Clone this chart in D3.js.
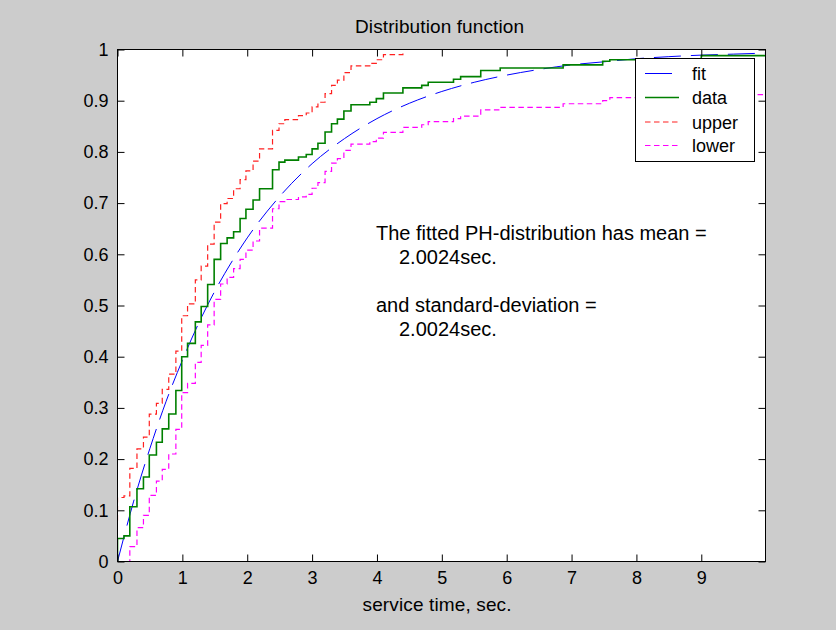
<!DOCTYPE html>
<html>
<head>
<meta charset="utf-8">
<script src="https://cdn.jsdelivr.net/npm/d3@7"></script>
<style>
  html, body { margin: 0; padding: 0; background: #cccccc; }
  svg { display: block; }
  text { font-family: "Liberation Sans", Arial, sans-serif; fill: #000; }
</style>
</head>
<body>
<svg id="chart" width="836" height="630"></svg>
<script>
// ---------- data ----------
const xTicks = [0, 1, 2, 3, 4, 5, 6, 7, 8, 9];
const xTickLabels = ["0", "1", "2", "3", "4", "5", "6", "7", "8", "9"];
const yTicks = [0, 0.1, 0.2, 0.3, 0.4, 0.5, 0.6, 0.7, 0.8, 0.9, 1];
const yTickLabels = ["0", "0.1", "0.2", "0.3", "0.4", "0.5", "0.6", "0.7", "0.8", "0.9", "1"];
const xMax = 9.99;

const seriesNames = ["fit", "data", "upper", "lower"];

const fitX = [0, 0.25, 0.5, 0.75, 1, 1.25, 1.5, 1.75, 2, 2.5, 3, 3.5, 4, 4.5, 5, 5.5, 6, 6.5, 7, 7.5, 8, 8.5, 9, 9.5, 9.99];
const fitY = [0, 0.118, 0.221, 0.313, 0.393, 0.465, 0.528, 0.583, 0.632, 0.713, 0.777, 0.826, 0.865, 0.895, 0.918, 0.936, 0.950, 0.961, 0.970, 0.976, 0.982, 0.986, 0.989, 0.991, 0.993];

const dataX = [0, 0, 0.10, 0.19, 0.30, 0.40, 0.49, 0.60, 0.69, 0.79, 0.90, 0.99, 1.08, 1.20, 1.29, 1.39, 1.49, 1.59, 1.69, 1.79, 1.89, 1.98, 2.09, 2.19, 2.39, 2.49, 2.58, 2.79, 2.91, 3.00, 3.09, 3.20, 3.30, 3.39, 3.49, 3.60, 3.89, 3.99, 4.10, 4.40, 4.69, 4.79, 5.18, 5.29, 5.60, 5.90, 6.87, 7.48, 7.59, 9.00, 9.99];
const dataY = [0, 0.045, 0.05, 0.107, 0.142, 0.165, 0.208, 0.233, 0.259, 0.288, 0.334, 0.40, 0.426, 0.468, 0.498, 0.541, 0.59, 0.621, 0.632, 0.644, 0.67, 0.688, 0.706, 0.728, 0.765, 0.78, 0.784, 0.79, 0.795, 0.806, 0.817, 0.839, 0.855, 0.864, 0.88, 0.892, 0.897, 0.904, 0.915, 0.925, 0.93, 0.936, 0.942, 0.947, 0.959, 0.964, 0.970, 0.977, 0.98, 0.988, 0.988];

const upperX = [0, 0, 0.10, 0.19, 0.30, 0.40, 0.49, 0.60, 0.69, 0.79, 0.90, 0.99, 1.08, 1.20, 1.29, 1.39, 1.49, 1.59, 1.69, 1.79, 1.89, 1.98, 2.09, 2.19, 2.39, 2.49, 2.58, 2.79, 2.91, 3.00, 3.09, 3.20, 3.30, 3.39, 3.49, 3.60, 3.89, 3.99, 4.10, 4.40, 9.99];
const upperY = [0.08, 0.125, 0.128, 0.182, 0.22, 0.243, 0.288, 0.309, 0.336, 0.366, 0.411, 0.48, 0.503, 0.55, 0.577, 0.62, 0.663, 0.699, 0.709, 0.728, 0.746, 0.763, 0.782, 0.806, 0.842, 0.855, 0.863, 0.871, 0.876, 0.888, 0.897, 0.914, 0.93, 0.94, 0.955, 0.968, 0.973, 0.98, 0.99, 1.0, 1.0];

const lowerX = [0, 0.19, 0.30, 0.40, 0.49, 0.60, 0.69, 0.79, 0.90, 0.99, 1.08, 1.20, 1.29, 1.39, 1.49, 1.59, 1.69, 1.79, 1.89, 1.98, 2.09, 2.19, 2.39, 2.49, 2.58, 2.79, 2.91, 3.00, 3.09, 3.20, 3.30, 3.39, 3.49, 3.60, 3.89, 3.99, 4.10, 4.40, 4.69, 4.79, 5.18, 5.29, 5.60, 5.90, 6.87, 7.48, 7.59, 9.00, 9.99];
const lowerY = [0, 0.029, 0.066, 0.09, 0.129, 0.157, 0.18, 0.21, 0.258, 0.33, 0.348, 0.389, 0.422, 0.462, 0.512, 0.542, 0.555, 0.572, 0.59, 0.608, 0.626, 0.651, 0.689, 0.703, 0.707, 0.712, 0.717, 0.729, 0.74, 0.762, 0.778, 0.787, 0.803, 0.815, 0.82, 0.827, 0.838, 0.848, 0.853, 0.859, 0.865, 0.87, 0.882, 0.887, 0.894, 0.9, 0.906, 0.912, 0.912];

const titleText = "Distribution function";
const xLabelText = "service time, sec.";
const noteLines = ["The fitted PH-distribution has mean =", "2.0024sec.", "and standard-deviation =", "2.0024sec."];

// ---------- layout ----------
const svg = d3.select("#chart");
const L = 117.5, R = 765.5, T = 49.5, B = 561.5;

const x = d3.scaleLinear().domain([0, xMax]).range([L, R]);
const y = d3.scaleLinear().domain([0, 1]).range([B, T]);

svg.append("rect").attr("x", 0).attr("y", 0).attr("width", 836).attr("height", 630).attr("fill", "#cccccc");
svg.append("rect").attr("x", L).attr("y", T).attr("width", R - L).attr("height", B - T).attr("fill", "#ffffff");

svg.append("defs").append("clipPath").attr("id", "clip")
  .append("rect").attr("x", L).attr("y", T - 1).attr("width", R - L).attr("height", B - T + 2);

const plot = svg.append("g").attr("clip-path", "url(#clip)");

const zip = (xs, ys) => xs.map((v, i) => [v, ys[i]]);

const styles = {
  fit:   { color: "#0000ff", width: 1,   dash: "27,10" },
  data:  { color: "#008000", width: 1.6, dash: null },
  upper: { color: "#ff2020", width: 1.2, dash: "5.5,3.5" },
  lower: { color: "#ff00ff", width: 1.2, dash: "5.5,3.5" }
};

const smoothLine = d3.line().x(d => x(d[0])).y(d => y(d[1])).curve(d3.curveMonotoneX);
const stepLine = d3.line().x(d => x(d[0])).y(d => y(d[1])).curve(d3.curveStepAfter);

function drawSeries(name, pts, gen) {
  const s = styles[name];
  plot.append("path").datum(pts)
    .attr("d", gen)
    .attr("fill", "none")
    .attr("stroke", s.color)
    .attr("stroke-width", s.width)
    .attr("stroke-dasharray", s.dash);
}

drawSeries("fit", zip(fitX, fitY), smoothLine);
drawSeries("data", zip(dataX, dataY), stepLine);
drawSeries("upper", zip(upperX, upperY), stepLine);
drawSeries("lower", zip(lowerX, lowerY), stepLine);

// ---------- axes ----------
const fontSize = 18;
const gx = svg.append("g").attr("transform", `translate(0,${B})`)
  .call(d3.axisBottom(x).tickValues(xTicks).tickFormat((d, i) => xTickLabels[i]).tickSize(-7).tickPadding(10));
const gxt = svg.append("g").attr("transform", `translate(0,${T})`)
  .call(d3.axisTop(x).tickValues(xTicks).tickFormat("").tickSize(-7));
const gy = svg.append("g").attr("transform", `translate(${L},0)`)
  .call(d3.axisLeft(y).tickValues(yTicks).tickFormat((d, i) => yTickLabels[i]).tickSize(-7).tickPadding(9));
const gyr = svg.append("g").attr("transform", `translate(${R},0)`)
  .call(d3.axisRight(y).tickValues(yTicks).tickFormat("").tickSize(-7));

[gx, gxt, gy, gyr].forEach(g => {
  g.select(".domain").remove();
  g.selectAll(".tick line").attr("stroke", "#000").attr("stroke-width", 1);
  g.selectAll("text").attr("font-family", "Liberation Sans, Arial, sans-serif").attr("font-size", fontSize).attr("fill", "#000");
  g.attr("font-family", null).attr("font-size", null);
});

// frame
svg.append("rect").attr("x", L).attr("y", T).attr("width", R - L).attr("height", B - T)
  .attr("fill", "none").attr("stroke", "#000").attr("stroke-width", 1);

// ---------- texts ----------
svg.append("text").attr("x", 439.5).attr("y", 33).attr("text-anchor", "middle")
  .attr("font-size", 19).attr("textLength", 169).attr("lengthAdjust", "spacing").text(titleText);
svg.append("text").attr("x", 437).attr("y", 611).attr("text-anchor", "middle")
  .attr("font-size", 19).attr("textLength", 149).attr("lengthAdjust", "spacing").text(xLabelText);

const notePos = [[376, 240], [399, 264], [376, 312], [399, 336]];
noteLines.forEach((t, i) => {
  svg.append("text").attr("x", notePos[i][0]).attr("y", notePos[i][1])
    .attr("font-size", 20).text(t);
});

// ---------- legend ----------
const lg = svg.append("g");
lg.append("rect").attr("x", 635.5).attr("y", 58.5).attr("width", 119).attr("height", 103)
  .attr("fill", "#ffffff").attr("stroke", "#000").attr("stroke-width", 1);
const legendY = [73.5, 97.5, 122, 145.5];
seriesNames.forEach((n, i) => {
  const s = styles[n];
  lg.append("line").attr("x1", 645).attr("x2", 679).attr("y1", legendY[i]).attr("y2", legendY[i])
    .attr("stroke", s.color).attr("stroke-width", s.width).attr("stroke-dasharray", s.dash);
  lg.append("text").attr("x", 692).attr("y", legendY[i] + 6.5).attr("font-size", 18).text(n);
});
</script>
</body>
</html>
